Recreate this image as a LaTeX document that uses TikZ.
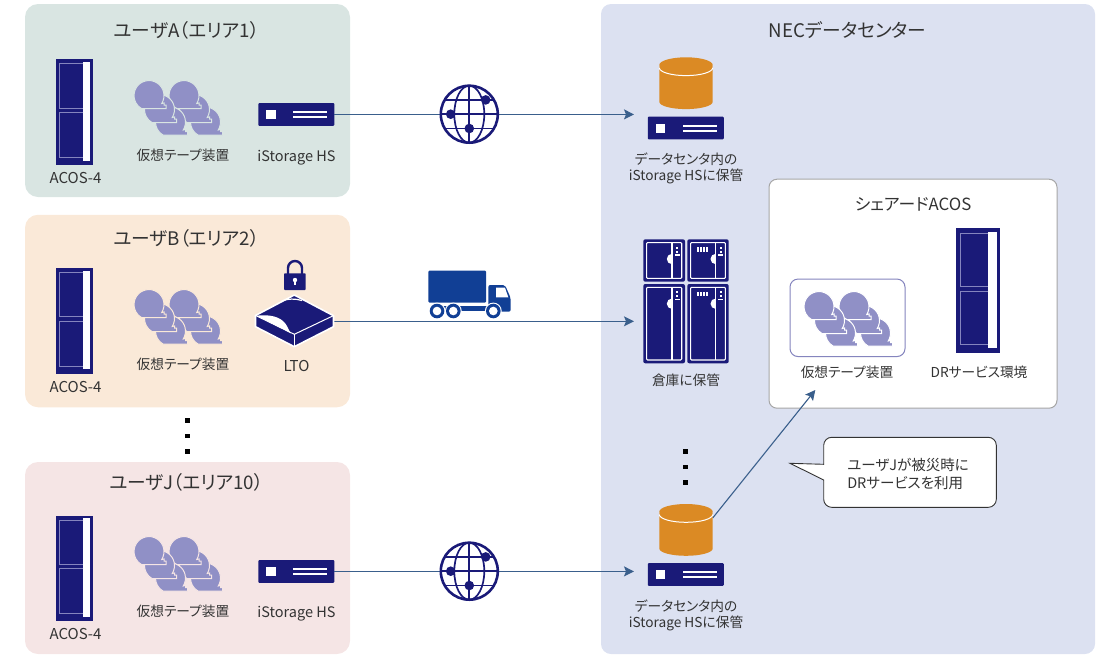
\documentclass[tikz,border=0pt]{standalone}
\usepackage{fontspec}
\setmainfont{Noto Sans CJK JP}[RawFeature={+palt}]
\usetikzlibrary{arrows.meta,shapes.geometric}
\definecolor{navy}{HTML}{1A1A78}
\definecolor{navyline}{HTML}{8585BE}
\definecolor{tape}{HTML}{9090C6}
\definecolor{panelA}{HTML}{D9E5E2}
\definecolor{panelB}{HTML}{FAE9D8}
\definecolor{panelJ}{HTML}{F5E5E5}
\definecolor{panelN}{HTML}{DCE1F1}
\definecolor{orangec}{HTML}{DB8A24}
\definecolor{linec}{HTML}{3A5F8C}
\definecolor{truckc}{HTML}{113F95}
\definecolor{txt}{HTML}{333333}
\tikzset{
  panel/.style={rounded corners=13pt,inner sep=0pt},
  title/.style={text=txt,font=\fontsize{18.7}{20}\selectfont,inner sep=0pt},
  lab/.style={text=txt,font=\fontsize{13.7}{16}\selectfont,inner sep=0pt,align=center},
  latinlab/.style={lab,font=\fontsize{15}{16}\selectfont},
  hslab/.style={lab,font=\fontsize{14.5}{16}\selectfont},
  callouttext/.style={text=txt,font=\fontsize{14.5}{17.7}\selectfont,inner sep=0pt,align=left},
  srv/.style={fill=navy,rounded corners=1pt,minimum width=76pt,minimum height=22.8pt,inner sep=0pt,outer sep=0pt},
  conn/.style={draw=linec,line width=1.1pt},
  arr/.style={conn,-{Stealth[length=10pt,width=10pt,inset=2pt]}},
  dot/.style={fill=black,minimum size=4.5pt,inner sep=0pt,outer sep=0pt},
  globeline/.style={draw=navy,line width=1.7pt},
}
\newcommand{\rackIcon}[3]{%
  \begin{scope}[shift={(#1,#2)},scale=#3]
    \fill[navy] (0,0) rectangle (37.6,105.7);
    \fill[white] (27.6,2.7) rectangle (34.6,101.3);
    \draw[navyline,line width=.7pt] (27.6,4.4) -- (4,4.4) -- (4,48.7) -- (27.6,48.7);
    \draw[navyline,line width=.7pt] (27.6,53) -- (4,53) -- (4,98) -- (27.6,98);
  \end{scope}}
\newcommand{\oneBubble}[3]{%
  \begin{scope}[shift={(#1,#2)}]
    \draw[#3,fill=tape,line width=1pt,line join=miter] (12.7,8) arc[start angle=32,end angle=-240,radius=15] -- (17,13) -- (17,9.5) -- (15,9.5) -- (15,7.5) -- cycle;
  \end{scope}}
\newcommand{\tapeGroup}[3]{%
  \oneBubble{#1+21.5}{#2+26.5}{#3}\oneBubble{#1+10.5}{#2+14}{#3}\oneBubble{#1}{#2}{#3}}
\newcommand{\tapeIcon}[3]{%
  \tapeGroup{#1+35}{#2}{#3}\tapeGroup{#1}{#2}{#3}}
\newcommand{\serverIcon}[3]{%
  \node[srv] (#1) at (#2,#3) {};
  \fill[white] (#2-30.3,#3-4.4) rectangle ++(9.7,9);
  \fill[white] (#2-3.3,#3-3.4) rectangle ++(34.3,2);
  \fill[white] (#2-3.3,#3+1.8) rectangle ++(34.3,2);}
\newcommand{\cylIcon}[2]{%
  \fill[orangec] (#1-26.7,#2+10) arc[start angle=180,end angle=360,x radius=26.7,y radius=7.3] -- (#1+26.7,#2+44.5) arc[start angle=0,end angle=180,x radius=26.7,y radius=7.3] -- cycle;
  \draw[white,line width=1pt] (#1-26.7,#2+10.5) arc[start angle=180,end angle=0,x radius=26.7,y radius=7.8];
  \fill[orangec] (#1,#2+7.7) ellipse[x radius=26.7,y radius=7.7];}
\newcommand{\globeIcon}[3]{%
  \node[circle,fill=white,draw=navy,line width=2.6pt,minimum size=57pt,inner sep=0pt,outer sep=0pt] (#1) at (#2,#3) {};
  \begin{scope}[shift={(#2,#3)}]
    \draw[globeline] (0,-28.5) -- (0,28.5);
    \draw[globeline] (0,0) ellipse[x radius=15,y radius=28.5];
    \draw[globeline] (-28,0) -- (28,0);
    \draw[globeline] (-23.5,-14.3) -- (23.5,-14.3);
    \draw[globeline] (-23.5,14.3) -- (23.5,14.3);
    \fill[navy] (16.4,-14.3) circle[radius=4.8];
    \fill[navy] (-18.6,0) circle[radius=4.8];
    \fill[navy] (0,14.3) circle[radius=4.8];
  \end{scope}}
\newcommand{\cabinet}[5]{% x y w h ticks
  \begin{scope}[shift={(#1,#2)}]
    \fill[navy,rounded corners=2pt] (0,0) rectangle (#3,#4);
    \draw[white,line width=1.1pt,rounded corners=1pt] (3.3,3.3) rectangle (#3-3.3,#4-3.3);
    \draw[white,line width=1.1pt] (#3-13,3.3) -- (#3-13,#4-3.3);
    \fill[white] (#3-13,14.5) arc[start angle=-90,end angle=-270,radius=5.2] -- cycle;
    \fill[white] (#3-9,7.3) rectangle ++(2.4,2);
    \fill[white] (#3-9,11.3) rectangle ++(2.4,2);
    \fill[white] (#3-10.5,15) rectangle ++(5,1.2);
    \ifnum#5=1
      \foreach \k in {0,1,2,3} {\fill[white] (9.5+\k*3.2,7.6) rectangle ++(1.9,4.6);}
    \fi
  \end{scope}}
\newcommand{\dotcol}[4]{%
  \node[dot] (#1a) at (#2,#3) {};
  \node[dot] (#1b) at (#2,#3+#4) {};
  \node[dot] (#1c) at (#2,#3+2*#4) {};}
\begin{document}
\begin{tikzpicture}[x=1pt,y=-1pt]
\useasboundingbox (0,0) rectangle (1097,654);
% panels
\node[panel,fill=panelA,minimum width=325pt,minimum height=193pt] (pA) at (187.5,100.5) {};
\node[panel,fill=panelB,minimum width=325pt,minimum height=192.5pt] (pB) at (187.5,311) {};
\node[panel,fill=panelJ,minimum width=325pt,minimum height=192pt] (pJ) at (187.5,558) {};
\node[panel,rounded corners=10pt,fill=panelN,minimum width=494pt,minimum height=650pt] (pN) at (848,329) {};
\node[draw=black!35,line width=1pt,fill=white,rounded corners=8pt,minimum width=288pt,minimum height=229pt,inner sep=0pt] (pS) at (913,293.7) {};
\node[draw=navyline,line width=1pt,fill=white,rounded corners=8pt,minimum width=115pt,minimum height=77.5pt,inner sep=0pt] (pT) at (847.5,317.8) {};
% titles
\node[title] (tA) at (186.5,30) {ユーザA（エリア1）};
\node[title] (tB) at (186.5,238) {ユーザB（エリア2）};
\node[title] (tJ) at (186.5,482) {ユーザJ（エリア10）};
\node[title] (tN) at (847.5,30) {NECデータセンター};
\node[lab,font=\fontsize{16.8}{18}\selectfont] (tS) at (913,204) {シェアードACOS};
% racks and tape
\rackIcon{55.7}{59.3}{1}
\rackIcon{55.7}{268}{1}
\rackIcon{55.7}{515.5}{1}
\rackIcon{955.7}{228.3}{1.183}
\tapeIcon{149}{95.5}{panelA}
\tapeIcon{149}{304.5}{panelB}
\tapeIcon{149}{551.5}{panelJ}
\tapeIcon{819}{306.5}{white}
% labels left
\node[latinlab] (lA1) at (75.5,178) {ACOS-4};
\node[lab] (lA2) at (183,155.5) {仮想テープ装置};
\node[hslab] (lA3) at (296.5,157.5) {iStorage HS};
\node[latinlab] (lB1) at (75.5,387) {ACOS-4};
\node[lab] (lB2) at (183,364.5) {仮想テープ装置};
\node[latinlab] (lB3) at (296.5,366) {LTO};
\node[latinlab] (lJ1) at (75.5,634) {ACOS-4};
\node[lab] (lJ2) at (183,611.5) {仮想テープ装置};
\node[hslab] (lJ3) at (296.5,613.5) {iStorage HS};
% labels right
\node[lab] (lN1) at (686,168) {データセンタ内の\\iStorage HSに保管};
\node[lab] (lN2) at (686,380) {倉庫に保管};
\node[lab] (lN3) at (686,615) {データセンタ内の\\iStorage HSに保管};
\node[lab] (lS1) at (847,372) {仮想テープ装置};
\node[lab] (lS2) at (979,372) {DRサービス環境};
% dots
\dotcol{dL}{187.7}{420.7}{15.3}
\dotcol{dR}{685.3}{451.7}{15.5}
% arrow targets
\coordinate (tipA) at (634,114.4);
\coordinate (tipB) at (634,321.3);
\coordinate (tipJ) at (634,571.4);
\coordinate (tipS) at (815.3,390);
\coordinate (lto) at (334,321.3);
\coordinate (cylout) at (712.7,518);
% servers
\serverIcon{sA}{296.3}{114.4}
\serverIcon{sJ}{296.3}{571.4}
\serverIcon{sN1}{685.8}{128}
\serverIcon{sN3}{685.8}{574.5}
% connectors
\draw[arr] (sA.east) -- (tipA);
\draw[arr] (lto) -- (tipB);
\draw[arr] (sJ.east) -- (tipJ);
\draw[arr] (cylout) -- (tipS);
% globes
\globeIcon{gA}{469.3}{114.2}
\globeIcon{gJ}{469.3}{571.2}
% cylinders
\cylIcon{686}{57.3}
\cylIcon{686}{504}
% LTO
\begin{scope}
  \fill[navy,draw=white,line width=1.6pt,line join=round] (294.3,295) -- (333.5,315.7) -- (333.5,326.7) -- (294.3,346.7) -- (255.5,326.7) -- (255.5,315.5) -- cycle;
  \fill[white] (256.5,315.7) .. controls (270,314) and (280,317) .. (285,323) .. controls (288,327) and (289,331) .. (291,333.3) -- cycle;
  \draw[white,line width=1pt] (255.7,315.5) -- (294.3,334.3) -- (333.3,315.7);
  \draw[white,line width=1pt] (294.3,334.3) -- (294.3,346);
  \draw[white,line width=1.2pt] (281.7,301) .. controls (288,298.5) and (295,298.5) .. (302,300.5);
\end{scope}
% lock
\draw[navy,line width=2.4pt] (288,275) -- (288,268) arc[start angle=180,end angle=360,radius=7] -- (302,275);
\fill[navy,rounded corners=.8pt] (284,273.3) rectangle (305.7,290);
\fill[white] (295,280) circle[radius=2.2];
\fill[white] (294.2,280) rectangle (295.8,285);
% truck
\fill[truckc,rounded corners=1pt] (428.3,270.7) rectangle (486,302.5);
\fill[truckc,rounded corners=2pt] (488.3,285) -- (505,285) -- (510.7,298) -- (510.7,311.7) -- (488.3,311.7) -- cycle;
\fill[truckc] (437,305.7) rectangle (495,310.7);
\fill[white] (496,287.7) -- (505,287.7) -- (508.3,297.3) -- (496,297.3) -- cycle;
\foreach \wx in {437,453.3,493.3} {
  \fill[white] (\wx,311) circle[radius=8.4];
  \fill[truckc] (\wx,311) circle[radius=7.3];
  \fill[white] (\wx,311) circle[radius=4.3];
}
% cabinets
\cabinet{643.3}{239.3}{41.7}{42.4}{0}
\cabinet{687.3}{239.3}{41.4}{42.4}{1}
\cabinet{643.3}{284}{41.7}{79.3}{0}
\cabinet{687.3}{284}{41.4}{79.3}{1}
% callout
\draw[draw=txt,line width=.9pt,fill=white,line join=miter] (790,463.3) -- (823.7,464.3) -- (823.7,445.3) arc[start angle=180,end angle=270,radius=8] -- (988.3,437.3) arc[start angle=-90,end angle=0,radius=8] -- (996.3,499.3) arc[start angle=0,end angle=90,radius=8] -- (831.7,507.3) arc[start angle=90,end angle=180,radius=8] -- (823.7,480) -- cycle;
\node[callouttext] (cT) at (908,474) {ユーザJが被災時に\\DRサービスを利用};
\end{tikzpicture}
\end{document}
